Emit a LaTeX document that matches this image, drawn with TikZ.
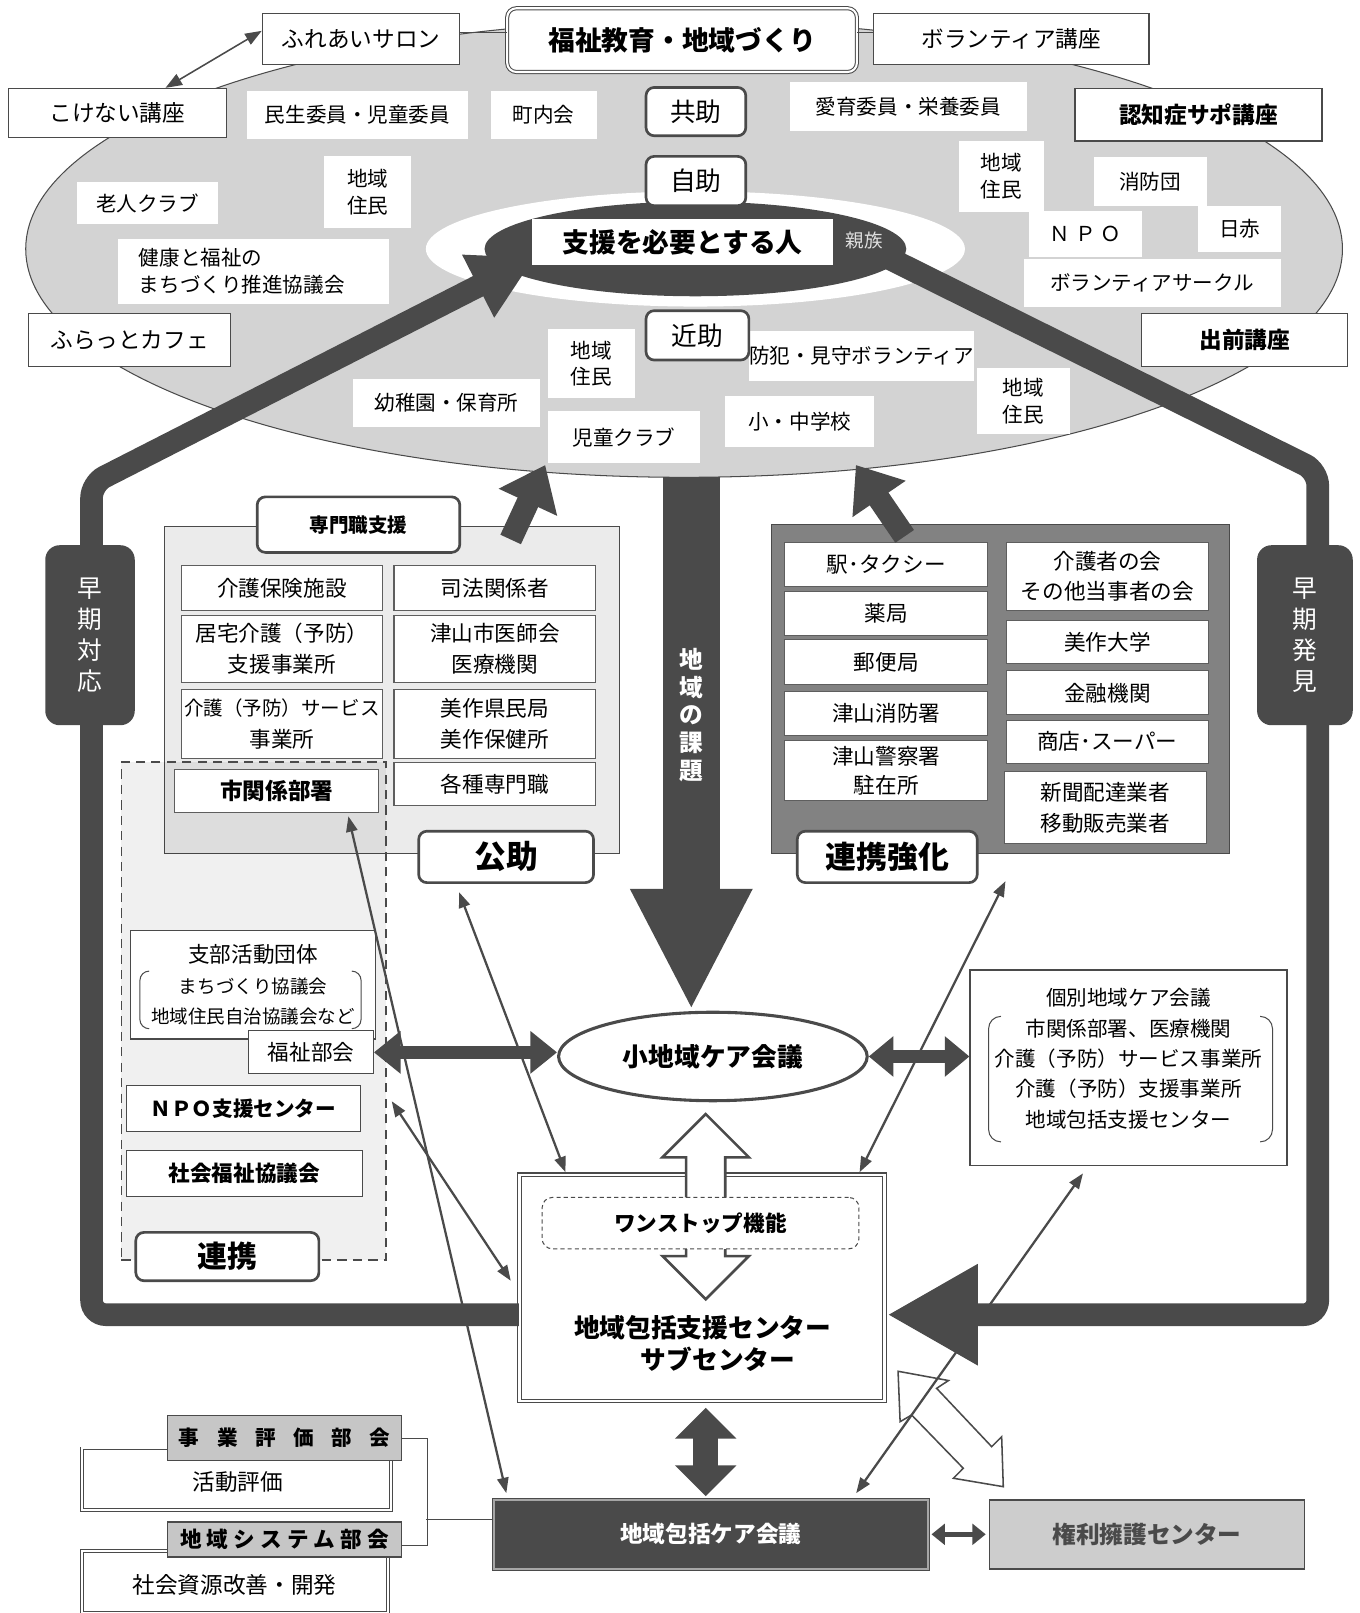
\documentclass[tikz,border=0pt]{standalone}
\usepackage{fontspec}
\setmainfont{Noto Sans CJK JP}
\usetikzlibrary{arrows.meta,shapes.geometric,calc}
\newcommand\jfs[2]{\fontsize{#1}{#2}\selectfont}
\newcommand\gpa{\hspace{17pt}}
\newcommand\gpb{\hspace{5pt}}
\definecolor{dk}{HTML}{4A4A4A}
\definecolor{gline}{HTML}{5E5E5E}
\definecolor{ellg}{HTML}{D3D3D3}
\definecolor{lpan}{HTML}{EBEBEB}
\definecolor{rpan}{HTML}{828282}
\definecolor{bukai}{HTML}{C6C6C6}
\definecolor{kenrig}{HTML}{CDCDCD}
\tikzset{
 wlab/.style={fill=white, inner sep=0pt, align=center, font=\jfs{20}{26}},
 bx/.style={draw=dk, line width=1.2pt, fill=white, inner sep=0pt, align=center, font=\jfs{22}{28}},
 rbx/.style={draw=dk, line width=2.6pt, rounded corners=8pt, fill=white, inner sep=0pt, align=center},
 gbx/.style={draw=gline, line width=1pt, fill=white, inner sep=0pt, align=center, font=\jfs{21}{30}},
 frm/.style={draw=dk, line width=22pt, rounded corners=14pt},
 tarr/.style={draw=dk, line width=2.2pt, {Triangle[length=15pt,width=11pt]}-{Triangle[length=15pt,width=11pt]}},
 darr/.style={draw=dk, line width=13pt, {Triangle[length=26pt,width=40pt]}-{Triangle[length=26pt,width=40pt]}},
 vlab/.style={fill=dk, rounded corners=14pt, inner sep=0pt, align=center, text=white, font=\jfs{24}{30}},
 bukaibx/.style={draw=dk, line width=1.2pt, fill=bukai, inner sep=0pt, font=\jfs{20}{24}\bfseries},
 dblbx/.style={draw=dk, line width=0.8pt, double, double distance=2pt, fill=white, inner sep=0pt, font=\jfs{22}{26}},
}
\begin{document}
\begin{tikzpicture}[x=1pt,y=-1pt]
\useasboundingbox (0,0) rectangle (1322,1568);
\fill[white] (0,0) rectangle (1322,1568);

% big ellipse
\node[ellipse, draw=dk, line width=1pt, fill=ellg, minimum width=1280pt, minimum height=444pt, inner sep=0pt] (bigell) at (665,242) {};

% chiiki no kadai arrow
\coordinate (kadaitip) at (672,982);
\draw[dk, line width=55pt, -{Triangle[length=118pt,width=110pt]}] ($(bigell.south)+(7pt,1pt)$) -- (kadaitip);
\node[text=white, font=\jfs{23}{27}\bfseries, align=center, inner sep=0pt] (kadaitxt) at (672,695) {地\\域\\の\\課\\題};

% top boxes
\node[bx, minimum width=192pt, minimum height=50pt] (furei) at (351,38) {ふれあいサロン};
\node[bx, double, double distance=2pt, line width=1pt, rounded corners=9pt, minimum width=340pt, minimum height=62pt, font=\jfs{26}{30}\bfseries] (fukushi) at (663,39) {福祉教育・地域づくり};
\node[bx, minimum width=268pt, minimum height=50pt] (volk) at (983,38) {ボランティア講座};
\node[bx, minimum width=212pt, minimum height=48pt] (kokenai) at (114,110) {こけない講座};
\node[bx, minimum width=240pt, minimum height=51pt, font=\jfs{22}{28}\bfseries] (ninchi) at (1165,111.5) {認知症サポ講座};
\node[bx, minimum width=196pt, minimum height=51pt] (furatto) at (126,330.5) {ふらっとカフェ};
\node[bx, minimum width=200pt, minimum height=51pt, font=\jfs{22}{28}\bfseries] (demae) at (1210,330.5) {出前講座};
\draw[dk, line width=1pt] ($(furei.east)+(0,6pt)$) -- ($(fukushi.west)+(0,7pt)$);
\draw[dk, line width=1pt] ($(fukushi.east)+(0,7pt)$) -- ($(volk.west)+(0,6pt)$);
\draw[dk, line width=1.5pt, {Triangle[length=16pt,width=12pt]}-{Triangle[length=16pt,width=12pt]}] ($(kokenai.north west)!0.72!(kokenai.north east)$) -- ($(furei.west)+(0,8pt)$);

% inner ellipses
\node[ellipse, fill=white, minimum width=524pt, minimum height=112pt, inner sep=0pt] (whell) at (676,242) {};
\node[ellipse, fill=dk, minimum width=410pt, minimum height=92pt, inner sep=0pt] (darkell) at (676,242) {};

% white labels
\node[wlab, minimum width=215pt, minimum height=47pt] (minsei) at (347.5,111.5) {民生委員・児童委員};
\node[wlab, minimum width=103pt, minimum height=47pt] (chonai) at (528.5,111.5) {町内会};
\node[wlab, minimum width=230pt, minimum height=47pt] (aiiku) at (883,103.5) {愛育委員・栄養委員};
\node[wlab, minimum width=137pt, minimum height=41pt] (rojin) at (143.5,197.5) {老人クラブ};
\node[wlab, minimum width=85pt, minimum height=70pt] (jumin1) at (357.5,187) {地域\\住民};
\node[wlab, minimum width=263pt, minimum height=64pt, align=left, text width=223pt] (kenko) at (246.5,264) {健康と福祉の\\まちづくり推進協議会};
\node[wlab, minimum width=83pt, minimum height=69pt] (jumin2) at (973.5,171.5) {地域\\住民};
\node[wlab, minimum width=110pt, minimum height=47pt] (shobodan) at (1118,176.5) {消防団};
\node[wlab, minimum width=110pt, minimum height=45pt] (npo) at (1055,227.5) {Ｎ\gpb Ｐ\gpb Ｏ};
\node[wlab, minimum width=80pt, minimum height=45pt] (nisseki) at (1205,222.5) {日赤};
\node[wlab, minimum width=250pt, minimum height=46pt] (volc) at (1120,275) {ボランティアサークル};
\node[wlab, minimum width=84pt, minimum height=67pt] (jumin3) at (575,353.5) {地域\\住民};
\node[wlab, minimum width=182pt, minimum height=47pt] (yochien) at (434,391.5) {幼稚園・保育所};
\node[wlab, minimum width=215pt, minimum height=48pt] (bohan) at (837.5,346) {防犯・見守ボランティア};
\node[wlab, minimum width=147pt, minimum height=50pt] (jidou) at (606.5,425) {児童クラブ};
\node[wlab, minimum width=145pt, minimum height=50pt] (shochu) at (777.5,410) {小・中学校};
\node[wlab, minimum width=90pt, minimum height=64pt] (jumin4) at (995,390) {地域\\住民};

% left panel (kojo)
\node[draw=dk, line width=1.2pt, fill=lpan, minimum width=442pt, minimum height=318pt, inner sep=0pt] (lpanel) at (381,671) {};
\node[draw=dk, line width=1.6pt, dash pattern=on 9pt off 6pt, fill=black, fill opacity=0.06, minimum width=257pt, minimum height=484pt, inner sep=0pt] (renkei) at (246.5,983) {};
\node[gbx, minimum width=196pt, minimum height=43pt] (kaigohoken) at (274,571.5) {介護保険施設};
\node[gbx, minimum width=196pt, minimum height=43pt] (shiho) at (481,571.5) {司法関係者};
\node[gbx, minimum width=196pt, minimum height=65pt] (kyotaku) at (274,630.5) {居宅介護（予防）\\支援事業所};
\node[gbx, minimum width=196pt, minimum height=65pt] (ishikai) at (481,630.5) {津山市医師会\\医療機関};
\node[gbx, minimum width=196pt, minimum height=67pt, font=\jfs{19}{31}] (kaigoserv) at (274,703.5) {介護（予防）サービス\\{\jfs{21}{31}事業所}};
\node[gbx, minimum width=196pt, minimum height=67pt] (mimasaka) at (481,703.5) {美作県民局\\美作保健所};
\node[gbx, minimum width=198pt, minimum height=42pt, font=\jfs{22}{28}\bfseries] (shikankei) at (269,769) {市関係部署};
\node[gbx, minimum width=196pt, minimum height=42pt] (kakushu) at (481,762) {各種専門職};
\node[rbx, minimum width=197pt, minimum height=54pt, font=\jfs{19}{24}\bfseries] (senmon) at (348.5,510) {専門職支援};
\node[rbx, minimum width=170pt, minimum height=50pt, font=\jfs{31}{36}\bfseries] (kojo) at (492,833) {公助};

% renkei region boxes
\node[bx, line width=1pt, minimum width=238pt, minimum height=105pt, font=\jfs{18}{29.5}] (shibu) at (246,957.5) {{\jfs{21}{29.5}支部活動団体}\\まちづくり協議会\\地域住民自治協議会など};
\draw[dk, line width=1pt] (145,944) to[out=180,in=90] (136,953) -- (136,991) to[out=-90,in=180] (145,1000);
\draw[dk, line width=1pt] (342,944) to[out=0,in=90] (351,953) -- (351,991) to[out=-90,in=0] (342,1000);
\node[bx, line width=1pt, minimum width=121pt, minimum height=42pt, font=\jfs{21}{26}] (fukushibukai) at (302.5,1023) {福祉部会};
\node[bx, line width=1pt, minimum width=227pt, minimum height=45pt, font=\jfs{20}{24}\bfseries] (npoc) at (236.5,1077.5) {ＮＰＯ支援センター};
\node[bx, line width=1pt, minimum width=229pt, minimum height=45pt, font=\jfs{21}{26}\bfseries] (shakyo) at (237.5,1140.5) {社会福祉協議会};
\node[rbx, minimum width=178pt, minimum height=47pt, font=\jfs{29}{34}\bfseries] (renkeilab) at (221,1221.5) {連携};

% right panel
\node[draw=dk, line width=1.2pt, fill=rpan, minimum width=445pt, minimum height=320pt, inner sep=0pt] (rpanel) at (972.5,670) {};
\node[gbx, minimum width=197pt, minimum height=43pt] (eki) at (861.5,548.5) {駅･タクシー};
\node[gbx, minimum width=197pt, minimum height=43pt] (yakkyoku) at (861.5,596.5) {薬局};
\node[gbx, minimum width=197pt, minimum height=43pt] (yubin) at (861.5,643.5) {郵便局};
\node[gbx, minimum width=197pt, minimum height=43pt] (shobosho) at (861.5,693.5) {津山消防署};
\node[gbx, minimum width=197pt, minimum height=58pt, font=\jfs{21}{28}] (keisatsu) at (861.5,749) {津山警察署\\駐在所};
\node[gbx, minimum width=197pt, minimum height=66pt, font=\jfs{21}{29}] (kaigosha) at (1076.5,560) {介護者の会\\その他当事者の会};
\node[gbx, minimum width=197pt, minimum height=42pt] (daigaku) at (1076.5,624) {美作大学};
\node[gbx, minimum width=197pt, minimum height=43pt] (kinyu) at (1076.5,673.5) {金融機関};
\node[gbx, minimum width=197pt, minimum height=42pt] (shoten) at (1076.5,721) {商店･スーパー};
\node[gbx, minimum width=197pt, minimum height=70pt, font=\jfs{21}{30}] (shinbun) at (1074.5,785) {新聞配達業者\\移動販売業者};
\node[rbx, minimum width=175pt, minimum height=50pt, font=\jfs{30}{34}\bfseries] (renkeikyoka) at (862.5,833) {連携強化};

% panel up arrows
\coordinate (lptip) at (530,452);
\coordinate (rptip) at (832,452);
\draw[dk, line width=22pt, -{Triangle[length=40pt,width=60pt]}] ($(lpanel.north west)+(337pt,-13pt)$) -- (lptip);
\draw[dk, line width=22pt, -{Triangle[length=40pt,width=60pt]}] ($(rpanel.north west)+(130pt,-12pt)$) -- (rptip);

% center nodes
\node[draw=dk, line width=1pt, double, double distance=2.5pt, fill=white, minimum width=355pt, minimum height=220pt, inner sep=0pt] (hokatsu) at (682.5,1252) {};
\node[ellipse, draw=dk, line width=3pt, fill=white, minimum width=300pt, minimum height=86pt, inner sep=0pt, font=\jfs{25}{30}\bfseries] (shochiiki) at (693,1027) {小地域ケア会議};
\node[bx, line width=1.2pt, minimum width=308pt, minimum height=190pt] (kobetsu) at (1097,1038) {};
\node[font=\jfs{20}{29.5}, align=center, inner sep=0pt] (kobetsutxt) at (1097,1029) {個別地域ケア会議\\市関係部署、医療機関\\介護（予防）サービス事業所\\介護（予防）支援事業所\\地域包括支援センター};
\draw[dk, line width=1pt] (973,988) to[out=180,in=90] (961,1000) -- (961,1098) to[out=-90,in=180] (973,1110);
\draw[dk, line width=1pt] (1225,988) to[out=0,in=90] (1237,1000) -- (1237,1098) to[out=-90,in=0] (1225,1110);
\node[draw=dk, line width=1pt, double=gray!70, double distance=1.5pt, fill=dk, minimum width=422pt, minimum height=67pt, inner sep=0pt, text=white, font=\jfs{22}{26}\bfseries] (care) at (691,1491.5) {地域包括ケア会議};
\node[draw=dk, line width=1.5pt, fill=kenrig, minimum width=306pt, minimum height=67pt, inner sep=0pt, text=dk, font=\jfs{23}{27}\bfseries] (kenri) at (1115,1491.5) {権利擁護センター};

% frames
\coordinate (lftip) at (520,250);
\draw[frm, -{Triangle[length=62pt,width=64pt]}] ($(hokatsu.west)+(0,-26pt)$) -- (89,1278) -- (89,470) -- (lftip);
\draw[frm, -{Triangle[length=88pt,width=92pt]}] ($(darkell.-3)+(-15pt,3pt)$) -- (1281,458) -- (1281,1278) -- ($(hokatsu.east)+(2pt,-26pt)$);

% person in the center
\node[fill=white, inner sep=0pt, minimum width=293pt, minimum height=45pt, font=\jfs{26}{30}\bfseries] (shien) at (663.5,235.5) {支援を必要とする人};
\node[text=white!88!black, font=\jfs{18}{22}, inner sep=0pt] (shinzoku) at (840,234) {親族};
\node[rbx, minimum width=97pt, minimum height=47pt, font=\jfs{25}{30}] (kyojo) at (676.5,108.5) {共助};
\node[rbx, minimum width=97pt, minimum height=48pt, font=\jfs{25}{30}] (jijo) at (676.5,176) {自助};
\node[rbx, minimum width=100pt, minimum height=48pt, font=\jfs{25}{30}] (kinjo) at (678,326) {近助};

% early labels
\node[vlab, minimum width=87pt, minimum height=175pt] (sokitaio) at (87.5,617.5) {早\\期\\対\\応};
\node[vlab, minimum width=93pt, minimum height=175pt] (sokihakken) at (1268.5,617.5) {早\\期\\発\\見};

% hollow arrows
\draw[dk, line width=2.5pt, fill=white, line join=miter] (686,1083) -- (728,1125) -- (705,1125) -- (705,1221) -- (728,1221) -- (686,1263) -- (644,1221) -- (667,1221) -- (667,1125) -- (644,1125) -- cycle;
\node[draw=dk, line width=1pt, dash pattern=on 4pt off 3pt, rounded corners=10pt, fill=white, minimum width=308pt, minimum height=50pt, inner sep=0pt, font=\jfs{21}{26}\bfseries] (onestop) at (681,1189) {ワンストップ機能};
\node[font=\jfs{25}{31}\bfseries, align=center, inner sep=0pt] (hokatsutxt) at (683,1306) {地域包括支援センター\\\hspace*{30pt}サブセンター};
\draw[dk, line width=1.5pt, fill=white, line join=miter] (873,1333) -- (922,1342) -- (910.5,1349.6) -- (964,1406.3) -- (973.7,1396.6) -- (975.3,1445.2) -- (926.8,1437) -- (936.4,1427.3) -- (886.2,1375.5) -- (875,1382) -- cycle;

% thick double arrows
\draw[darr] (fukushibukai.east) -- (fukushibukai.east -| shochiiki.west);
\draw[dk, line width=12pt, {Triangle[length=24pt,width=38pt]}-{Triangle[length=24pt,width=38pt]}] (shochiiki.east) -- (shochiiki.east -| kobetsu.west);
\draw[dk, line width=24pt, {Triangle[length=30pt,width=58pt]}-{Triangle[length=30pt,width=58pt]}] ($(hokatsu.south)+(3.5pt,-6pt)$) -- ($(care.north)+(-5pt,3pt)$);
\draw[dk, line width=5pt, {Triangle[length=13pt,width=20pt]}-{Triangle[length=13pt,width=20pt]}] ($(care.east)+(3pt,0)$) -- ($(kenri.west)+(-3pt,0)$);

% thin arrows
\draw[tarr] ($(shikankei.south west)!0.85!(shikankei.south east)+(0,-3pt)$) -- ($(care.north west)!0.03!(care.north east)+(0,6pt)$);
\draw[tarr] ($(kojo.south west)!0.235!(kojo.south east)+(0,-8pt)$) -- ($(hokatsu.north west)!0.127!(hokatsu.north east)+(0,2pt)$);
\draw[tarr] ($(renkei.east |- npoc.east)+(5pt,7pt)$) -- ($(hokatsu.west)+(-8pt,7pt)$);
\draw[tarr] ($(rpanel.south west)+(228pt,-26pt)$) -- ($(hokatsu.north west)!0.93!(hokatsu.north east)+(0,2pt)$);
\draw[tarr] ($(kobetsu.south west)!0.357!(kobetsu.south east)+(0,-7pt)$) -- ($(care.north west)!0.834!(care.north east)+(0,6pt)$);

% bukai
\node[dblbx, minimum width=300pt, minimum height=60pt] (katsudo) at (230,1438) {};
\node[font=\jfs{22}{26}, inner sep=0pt] (katsudotxt) at (231,1441) {活動評価};
\node[dblbx, minimum width=297pt, minimum height=60pt] (shakaishigen) at (228.5,1538) {};
\node[font=\jfs{22}{26}, inner sep=0pt] (shakaishigentxt) at (228,1541) {社会資源改善・開発};
\node[bukaibx, minimum width=227pt, minimum height=44pt] (jigyo) at (276.5,1398) {事\gpa 業\gpa 評\gpa 価\gpa 部\gpa 会};
\node[bukaibx, minimum width=227pt, minimum height=34pt, font=\jfs{21}{24}\bfseries] (chiikisys) at (276.5,1496.5) {地\gpb 域\gpb シ\gpb ス\gpb テ\gpb ム\gpb 部\gpb 会};
\draw[dk, line width=1pt] (jigyo.east) -- ++(25pt,0) |- ($(chiikisys.east)+(0,-6pt)$);
\draw[dk, line width=1pt] ($(care.west)+(0,14pt)$) -- ++(-65pt,0);
\end{tikzpicture}
\end{document}
